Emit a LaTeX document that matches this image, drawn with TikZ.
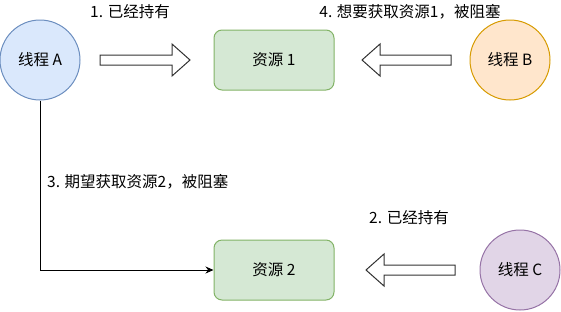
\documentclass[tikz,border=0pt]{standalone}
\usepackage{fontspec}
\setmainfont{Noto Sans CJK SC}
\usetikzlibrary{arrows.meta}
\definecolor{aFill}{HTML}{DAE8FC}\definecolor{aLine}{HTML}{6C8EBF}
\definecolor{bFill}{HTML}{FFE6CC}\definecolor{bLine}{HTML}{D79B00}
\definecolor{cFill}{HTML}{E1D5E7}\definecolor{cLine}{HTML}{9673A6}
\definecolor{rFill}{HTML}{D5E8D4}\definecolor{rLine}{HTML}{82B366}
\begin{document}
\begin{tikzpicture}[x=1pt,y=-1pt,
  every node/.style={font=\fontsize{15.5}{18}\selectfont},
  thread/.style={circle,draw,line width=1pt,minimum size=80pt,inner sep=0pt},
  res/.style={draw=rLine,fill=rFill,rounded corners=8pt,line width=1pt,minimum width=120pt,minimum height=60pt,inner sep=0pt},
  blockarrow/.style={draw=black!80,fill=white,line width=1pt},
  lbl/.style={inner sep=0pt}]
\useasboundingbox (0,0) rectangle (561,311);
\node[thread,draw=aLine,fill=aFill] (A) at (40,60) {线程 A};
\node[thread,draw=bLine,fill=bFill] (B) at (510,60) {线程 B};
\node[thread,draw=cLine,fill=cFill] (C) at (520,270) {线程 C};
\node[res] (R1) at (274,60) {资源 1};
\node[res] (R2) at (274,270) {资源 2};
% block arrows
\draw[blockarrow] (100,55) -- (172,55) -- (172,44) -- (190,60) -- (172,76) -- (172,65) -- (100,65) -- cycle;
\draw[blockarrow] (451,55) -- (380,55) -- (380,44) -- (362,60) -- (380,76) -- (380,65) -- (451,65) -- cycle;
\draw[blockarrow] (455,265) -- (384,265) -- (384,254) -- (366,270) -- (384,286) -- (384,275) -- (455,275) -- cycle;
% connector
\coordinate (bend) at (40,270);
\draw[line width=1pt,-{Stealth[length=8pt,width=7pt]}] (A.south) -- (bend) -- (R2.west);
% labels
\node[lbl] (l1) at (130,12) {1. 已经持有};
\node[lbl] (l4) at (410,12) {4. 想要获取资源1，被阻塞};
\node[lbl,anchor=west] (l3) at (47,182) {3. 期望获取资源2，被阻塞};
\node[lbl] (l2) at (409,218) {2. 已经持有};
\end{tikzpicture}
\end{document}
